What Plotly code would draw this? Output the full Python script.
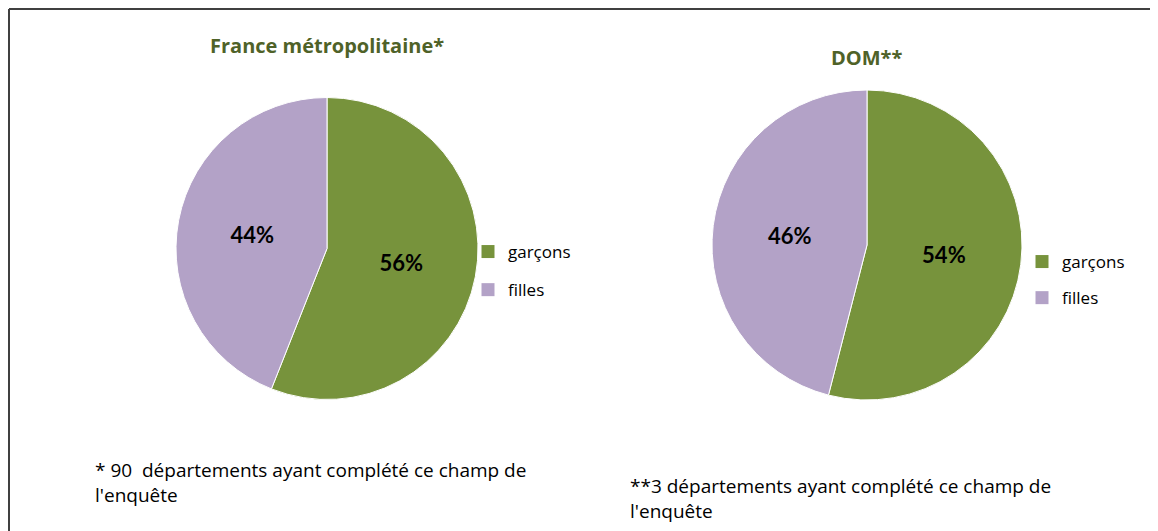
import plotly.graph_objects as go

W, H = 1158, 531
OFF = 8  # page body margin in the screenshot

categories = ["garçons", "filles"]
france_values = [56, 44]
dom_values = [54, 46]
titles = ["France métropolitaine*", "DOM**"]
footnotes = [
    "* 90  départements ayant complété ce champ de<br>l'enquête",
    "**3 départements ayant complété ce champ de<br>l'enquête",
]

colors = ["#77933C", "#B3A2C7"]
FONT = "Open Sans"
LFONT = "Lato"


def px(x):
    return (x - OFF) / W


def py(y):
    return 1 - (y - OFF) / H


def px_dom(x0, x1, y0, y1):
    return dict(x=[px(x0), px(x1)], y=[py(y1), py(y0)])


fig = go.Figure()

for vals, dom in [(france_values, px_dom(176, 478, 97, 400)),
                  (dom_values, px_dom(712, 1022, 90, 400))]:
    fig.add_trace(go.Pie(
        labels=categories, values=vals,
        marker=dict(colors=colors, line=dict(color="white", width=1)),
        sort=False, direction="clockwise", rotation=0,
        textinfo="percent", texttemplate="%{percent:.0%}",
        textposition="inside", insidetextorientation="horizontal",
        textfont=dict(family=LFONT, size=22, color="black", weight="bold"),
        domain=dom, showlegend=False,
    ))

# one legend per pie
for leg in ["legend", "legend2"]:
    for i, (cat, col) in enumerate(zip(categories, colors)):
        fig.add_trace(go.Scatter(
            x=[None], y=[None], mode="markers", name=cat,
            marker=dict(symbol="square", size=13, color=col),
            legend=leg, legendgroup=f"{leg}_{i}", showlegend=True,
        ))

legend_common = dict(
    font=dict(family=FONT, size=17, color="black"),
    bgcolor="rgba(0,0,0,0)",
    xanchor="left", yanchor="middle",
    itemclick=False, itemdoubleclick=False,
)
fig.update_layout(
    legend=dict(x=px(468), y=py(271), tracegroupgap=13, **legend_common),
    legend2=dict(x=px(1022), y=py(280), tracegroupgap=11, **legend_common),
)

annotations = [
    dict(text=titles[0], x=px(327), y=py(45)),
    dict(text=titles[1], x=px(866), y=py(58)),
]
for a in annotations:
    a.update(xref="paper", yref="paper", showarrow=False, xanchor="center", yanchor="middle",
             font=dict(family=FONT, size=20, color="#4F6228", weight="bold"))

annotations += [
    dict(text=footnotes[0], x=px(93), y=py(482)),
    dict(text=footnotes[1], x=px(628), y=py(498)),
]
for a in annotations[2:]:
    a.update(xref="paper", yref="paper", showarrow=False, xanchor="left", yanchor="middle",
             align="left", font=dict(family=FONT, size=19, color="black"))

fig.update_layout(
    width=W, height=H,
    margin=dict(l=0, r=0, t=0, b=0),
    paper_bgcolor="white", plot_bgcolor="white",
    xaxis=dict(visible=False), yaxis=dict(visible=False),
    annotations=annotations,
    shapes=[
        dict(type="line", xref="paper", yref="paper", x0=1 / W, x1=1.0, y0=1 - 1 / H, y1=1 - 1 / H,
             line=dict(color="#404040", width=2)),
        dict(type="line", xref="paper", yref="paper", x0=1 / W, x1=1 / W, y0=0, y1=1 - 1 / H,
             line=dict(color="#404040", width=2)),
    ],
)

fig.write_html("out.html")
